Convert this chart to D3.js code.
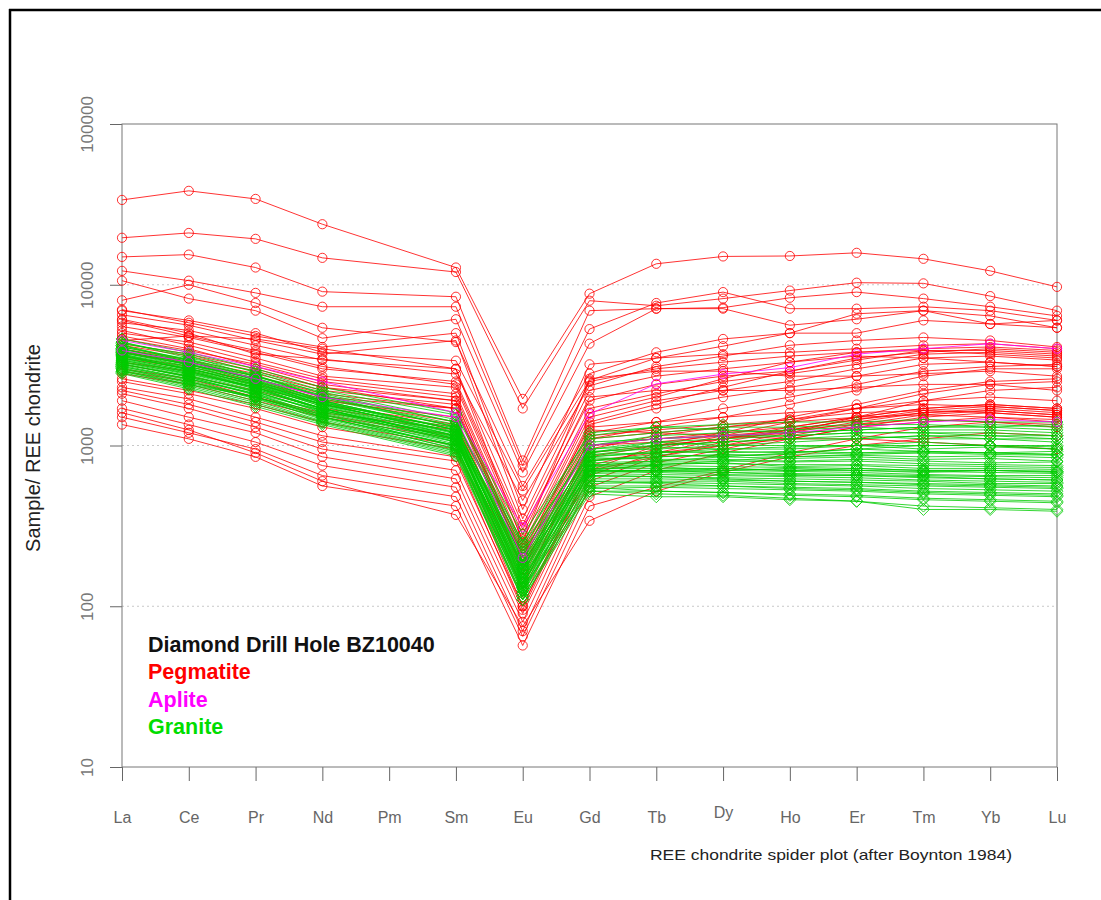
<!DOCTYPE html>
<html><head><meta charset="utf-8">
<script src="https://cdn.jsdelivr.net/npm/d3@7"></script>
<style>body{margin:0;background:#fff}svg{display:block}</style>
</head><body>
<svg id="chart" width="1101" height="900"></svg>
<script>
// Categories (Pm has no data; lines connect Nd directly to Sm)
const elements = ["La","Ce","Pr","Nd","Pm","Sm","Eu","Gd","Tb","Dy","Ho","Er","Tm","Yb","Lu"];
const dataElements = ["La","Ce","Pr","Nd","Sm","Eu","Gd","Tb","Dy","Ho","Er","Tm","Yb","Lu"];
const yTickValues = [10,100,1000,10000,100000];
const yTickLabels = ["10","100","1000","10000","100000"];
const legendTitle = "Diamond Drill Hole BZ10040";
const legendLabels = ["Pegmatite","Aplite","Granite"];
const yLabel = "Sample/ REE chondrite";
const caption = "REE chondrite spider plot (after Boynton 1984)";

// Sample / chondrite values, order = dataElements
const pegmatite = [
  [33700,38400,34200,23800,12800,1950,8800,13500,15000,15100,15800,14500,12200,9700],
  [19600,21000,19300,14700,12000,1700,7960,7400,8200,9200,10300,10200,8500,6900],
  [14900,15400,12800,9060,8420,807,6900,7100,7200,8300,9000,8200,7300,6400],
  [12200,10600,8900,7300,7300,750,5300,7700,9000,7100,7100,7300,6900,6000],
  [10600,8200,6900,4650,6100,680,4300,7100,7100,5600,6100,6900,6400,5400],
  [8000,10000,7700,5400,4400,560,2800,3800,4600,5000,6600,6900,5700,6000],
  [6900,6000,5000,3800,3370,525,2540,3500,4150,5000,5000,6000,5700,5400],
  [6100,5000,3700,3450,2780,455,2350,3100,3600,4200,4500,4700,4500,4100],
  [5500,4700,3800,3000,2500,300,1900,2400,2700,2900,3400,3900,3900,3700],
  [5000,4400,3500,2700,2300,260,1700,2100,2500,2800,3200,3700,3800,3600],
  [4600,3900,3200,2500,2000,230,1500,1900,2200,2500,3000,3500,3600,3400],
  [4300,3700,3000,2300,1900,200,1350,1700,2000,2300,2700,3200,3300,3100],
  [6000,4800,3900,3100,2400,280,2000,2200,2200,2200,2300,2400,2400,2200],
  [4000,3400,2800,2200,1800,190,1200,1400,1700,2000,2400,2900,3100,3200],
  [3800,3200,2600,2000,1700,170,1100,1300,1500,1800,2200,2700,3000,3000],
  [5200,4200,3300,2600,2100,240,1600,2000,2600,3300,3800,4000,4100,3900],
  [4800,4000,3100,2400,1900,210,1400,1800,2300,2900,3500,3800,4000,3800],
  [3500,3000,2400,1900,1500,160,1000,1100,1200,1300,1500,1700,1800,1700],
  [3200,2700,2200,1700,1300,140,900,1000,1100,1200,1400,1600,1700,1600],
  [3000,2600,2000,1600,1250,150,950,1150,1300,1450,1700,1900,2000,1900],
  [2800,2400,1900,1500,1100,125,850,1000,1100,1250,1450,1600,1650,1550],
  [2600,2200,1800,1400,1000,110,800,900,1000,1100,1300,1400,1500,1400],
  [3800,3300,2700,2100,1700,200,1250,1200,1150,1100,1100,1050,1000,950],
  [2500,2100,1700,1300,950,100,750,950,1150,1400,1700,2100,2400,2500],
  [2300,1950,1500,1150,850,95,700,850,1000,1200,1500,1900,2200,2300],
  [2100,1700,1300,950,700,90,650,900,1100,1300,1500,1700,1800,1700],
  [1900,1500,1200,850,620,80,600,850,1050,1250,1450,1650,1750,1650],
  [1700,1350,1050,750,550,70,550,780,950,1150,1350,1550,1650,1550],
  [1500,1200,950,650,480,65,480,700,900,1100,1300,1500,1600,1500],
  [1350,1100,850,560,420,57,420,550,700,900,1100,1300,1400,1300],
  [1600,1250,900,600,370,75,340,520,680,850,1000,1100,1200,1150],
  [2200,1800,1400,1050,800,100,700,1000,1200,1500,1800,2200,2500,2600],
  [7000,5800,4800,4100,5000,400,3200,3500,3700,3800,4000,4200,4300,4000],
  [6500,5600,4500,3700,4500,350,2500,3000,3300,3600,3800,3900,3700,3500],
  [5800,5200,4200,3400,3000,320,2200,2700,3000,3300,3600,3500,3300,3100],
  [4500,4800,4600,4000,3000,250,2600,2900,2900,2700,2700,2800,2900,2700],
  [3600,3100,2500,1950,1400,170,1100,1200,1300,1400,1500,1550,1500,1450],
  [3300,2900,2300,1800,1350,180,1150,1250,1350,1450,1600,1650,1600,1500],
  [2900,2500,2000,1550,1150,130,1000,1050,1150,1250,1350,1450,1400,1350],
  [4200,3600,2900,2300,1700,220,1300,1400,1500,1600,1700,1800,1750,1650]
];

const aplite = [
  [4500,3800,3100,2500,1600,310,1570,2420,2780,3050,3700,4000,4300,4000],
  [3900,3300,2600,2000,1500,200,1000,1100,1150,1200,1300,1400,1450,1400]
];

const granite = [
  [4600,3800,3000,2300,1600,280,1150,1300,1350,1400,1400,1450,1400,1400],
  [4400,3500,2900,2200,1550,250,1100,1200,1300,1300,1350,1350,1300,1350],
  [4300,3700,2850,2100,1400,230,1000,1150,1200,1250,1300,1250,1250,1200],
  [4200,3300,2700,2150,1450,210,1050,1100,1150,1150,1200,1200,1150,1150],
  [4100,3450,2750,2000,1350,240,950,1000,1050,1100,1150,1100,1100,1050],
  [4000,3200,2600,2050,1300,200,900,1050,1000,1050,1100,1150,1100,1100],
  [3950,3350,2550,1950,1320,190,920,950,1000,1000,1000,1050,1000,1000],
  [3900,3150,2650,1900,1250,220,870,980,950,950,1000,950,980,950],
  [3850,3250,2500,1850,1280,180,880,900,920,900,950,920,900,920],
  [3800,3100,2450,1880,1200,175,850,920,900,920,900,900,880,870],
  [3750,3200,2400,1800,1220,185,820,850,880,850,870,850,860,840],
  [3700,3000,2480,1780,1150,170,800,880,850,830,850,820,830,800],
  [3650,3050,2350,1820,1180,160,840,820,820,800,820,800,780,790],
  [3600,2950,2300,1700,1130,165,780,800,800,790,800,770,760,750],
  [3550,3000,2380,1750,1100,155,760,780,770,760,760,750,740,730],
  [3500,2900,2250,1680,1120,150,750,760,780,740,750,720,720,710],
  [3450,2850,2300,1650,1080,145,740,750,740,730,720,700,700,690],
  [3400,2800,2200,1700,1050,140,720,720,720,700,700,690,680,670],
  [3350,2750,2150,1620,1060,150,700,700,700,690,680,660,650,650],
  [3300,2700,2180,1600,1020,135,690,690,680,670,660,650,640,630],
  [3250,2650,2100,1550,1000,130,670,680,660,650,650,630,620,610],
  [3200,2680,2050,1580,980,140,650,660,650,640,630,610,600,590],
  [3150,2600,2080,1500,1000,125,640,640,630,620,610,600,580,580],
  [3100,2550,2000,1520,950,130,620,620,610,600,590,580,570,560],
  [3050,2500,1950,1480,960,120,600,600,600,580,570,560,550,540],
  [3000,2450,1980,1450,930,125,580,590,580,570,560,540,530,520],
  [2950,2400,1900,1420,920,115,560,560,560,550,540,520,510,500],
  [2900,2350,1850,1400,900,110,540,550,540,530,520,500,490,480],
  [2850,2300,1800,1380,880,115,520,520,510,500,490,470,460,450],
  [2800,2250,1750,1350,860,110,500,480,480,460,450,400,400,390],
  [4400,3600,2700,2000,1300,200,700,700,680,660,650,640,620,610],
  [4200,3400,2600,1900,1250,190,650,640,620,600,590,570,560,550],
  [3300,2800,2300,1800,1200,200,1000,1100,1150,1200,1250,1300,1300,1250],
  [3100,2600,2100,1650,1150,180,950,1050,1100,1150,1200,1200,1200,1150],
  [3600,3000,2400,1850,1250,170,900,1000,1050,1100,1100,1150,1150,1100],
  [2900,2400,2000,1550,1050,160,850,900,950,980,1000,1000,1000,980],
  [3800,3200,2500,1900,1250,150,600,580,560,540,530,510,500,490],
  [4000,3300,2550,1850,1150,140,550,520,510,490,480,460,450,440],
  [3500,2900,2300,1700,1100,130,520,500,490,470,450,420,410,400],
  [3700,3100,2450,1800,1200,160,750,800,850,900,950,1000,1000,950],
  [3400,2850,2250,1700,1100,145,700,760,800,850,880,900,900,880],
  [3200,2700,2150,1650,1080,135,800,850,870,880,900,920,900,880],
  [4100,3400,2700,2050,1400,250,1200,1300,1250,1200,1250,1300,1350,1300],
  [3000,2500,2000,1500,1000,120,680,700,720,700,720,700,700,680],
  [3650,2950,2350,1750,1150,175,720,740,700,720,700,680,700,690]
];

const colors = {pegmatite:"#ff0000", aplite:"#ff00ff", granite:"#00cc00"};

const svg = d3.select("#chart");
const plotLeft = 122, plotRight = 1057, plotTop = 124, plotBottom = 767;

// outer frame
svg.append("line").attr("x1",9).attr("x2",1101).attr("y1",10).attr("y2",10).attr("stroke","#000").attr("stroke-width",2.5);
svg.append("line").attr("x1",10).attr("x2",10).attr("y1",9).attr("y2",900).attr("stroke","#000").attr("stroke-width",2.5);

const x = d3.scalePoint().domain(elements).range([plotLeft, plotRight]);
const y = d3.scaleLog().domain([10, 100000]).range([plotBottom, plotTop]);

// grid lines (dotted)
svg.append("g").selectAll("line").data(yTickValues.slice(1, -1)).join("line")
  .attr("x1", plotLeft).attr("x2", plotRight)
  .attr("y1", d => y(d)).attr("y2", d => y(d))
  .attr("stroke", "#c8c8c8").attr("stroke-width", 1).attr("stroke-dasharray", "2,3");

// Y axis
const yAxis = svg.append("g").attr("transform", `translate(${plotLeft},0)`)
  .call(d3.axisLeft(y).tickValues(yTickValues).tickFormat((d,i) => yTickLabels[i]).tickSize(12));
yAxis.select(".domain").remove();
yAxis.selectAll(".tick line").attr("stroke", "#666");
yAxis.selectAll(".tick text")
  .attr("transform", "rotate(-90)").attr("x", 0).attr("y", -29).attr("dy", 0)
  .attr("text-anchor", "middle").attr("fill", "#777")
  .style("font-family", "Liberation Sans, Arial, sans-serif").style("font-size", "17px");

// X axis
const xAxis = svg.append("g").attr("transform", `translate(0,${plotBottom})`)
  .call(d3.axisBottom(x).tickSize(14));
xAxis.select(".domain").remove();
xAxis.selectAll(".tick line").attr("stroke", "#666");
xAxis.selectAll(".tick text")
  .attr("y", d => d === "Dy" ? 51 : 56).attr("dy", 0).attr("fill", "#666")
  .style("font-family", "Liberation Sans, Arial, sans-serif").style("font-size", "16px");

// plot box
svg.append("rect").attr("x", plotLeft).attr("y", plotTop).attr("width", plotRight - plotLeft).attr("height", plotBottom - plotTop)
  .attr("fill", "none").attr("stroke", "#777").attr("stroke-width", 1);

const line = d3.line().x((d,i) => x(dataElements[i])).y(d => y(d));

function drawGroup(rows, color, shape) {
  const g = svg.append("g");
  rows.forEach(vals => {
    g.append("path").attr("d", line(vals)).attr("fill", "none")
      .attr("stroke", color).attr("stroke-width", 1).attr("stroke-opacity", 0.8);
    vals.forEach((v, i) => {
      const cx = x(dataElements[i]), cy = y(v);
      if (shape === "circle") {
        g.append("circle").attr("cx", cx).attr("cy", cy).attr("r", 4.6)
          .attr("fill", "none").attr("stroke", color).attr("stroke-width", 1).attr("stroke-opacity", 0.8);
      } else {
        const r = 6;
        g.append("path").attr("d", `M${cx},${cy - r}L${cx + r},${cy}L${cx},${cy + r}L${cx - r},${cy}Z`)
          .attr("fill", "none").attr("stroke", color).attr("stroke-width", 1).attr("stroke-opacity", 0.8);
      }
    });
  });
}

drawGroup(pegmatite, colors.pegmatite, "circle");
drawGroup(granite, colors.granite, "diamond");
drawGroup(aplite, colors.aplite, "circle");

// Y label
svg.append("text").attr("transform", "translate(40,448) rotate(-90)")
  .attr("text-anchor", "middle").attr("fill", "#222")
  .style("font-family", "Liberation Sans, Arial, sans-serif").style("font-size", "20px")
  .text(yLabel);

// Legend text
const lg = svg.append("g").style("font-family", "Liberation Sans, Arial, sans-serif")
  .style("font-size", "21.5px").style("font-weight", "bold");
lg.append("text").attr("x", 148).attr("y", 652).attr("fill", "#111").text(legendTitle);
const legendColors = [colors.pegmatite, colors.aplite, "#00dd00"];
legendLabels.forEach((t, i) => {
  lg.append("text").attr("x", 148).attr("y", 679 + i * 27.5).attr("fill", legendColors[i]).text(t);
});

// caption
svg.append("text").attr("x", 650).attr("y", 860).attr("fill", "#222")
  .attr("textLength", 362).attr("lengthAdjust", "spacingAndGlyphs")
  .style("font-family", "Liberation Sans Narrow, Liberation Sans, Arial, sans-serif").style("font-size", "15px")
  .text(caption);
</script>
</body></html>
